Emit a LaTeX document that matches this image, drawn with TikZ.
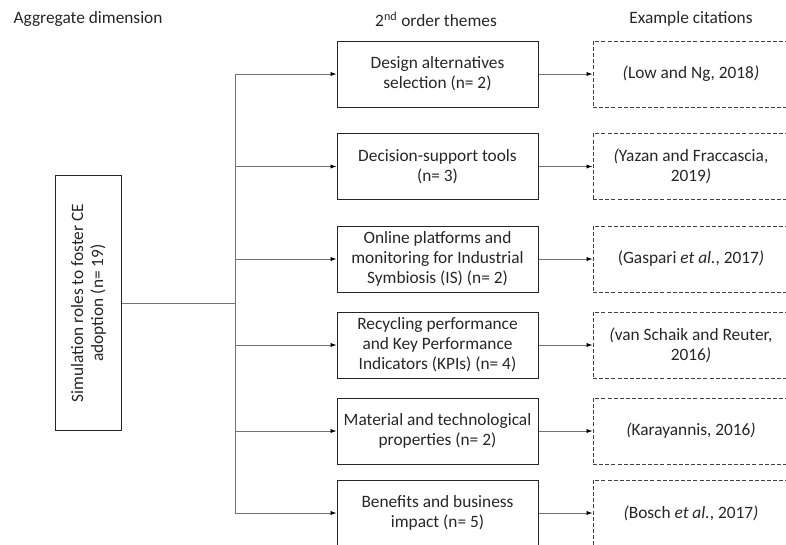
\documentclass[tikz,border=0pt]{standalone}
\usepackage{fontspec}
\setmainfont{Carlito}
\usetikzlibrary{arrows.meta, positioning}
\tikzstyle{aggregate} = [rectangle, rotate=90, minimum width=191pt, minimum height=50pt, align=center, line width=0.75pt, draw=black!85]
\tikzstyle{theme} = [rectangle, minimum width=150.75pt, minimum height=49.5pt, align=center, line width=0.75pt, draw=black!85]
\tikzstyle{citation} = [rectangle, minimum width=180pt, minimum height=49.5pt, align=center, line width=0.75pt, dash pattern=on 3pt off 1.6pt, draw=black!75]
\tikzstyle{header} = [text=black!85]
\tikzstyle{line} = [line width=0.6pt, draw=black!55]
\tikzstyle{arrow} = [line width=0.6pt, draw=black!55, -{Latex[length=4.5pt,width=3.2pt,black]}]

\begin{document}
\begin{tikzpicture}[x=0.75pt, y=-0.75pt, every node/.style={font=\fontsize{13}{15}\selectfont, text=black!85}]
        \useasboundingbox (0,0) rectangle (786,544);
        \clip (0,0) rectangle (786,544);

        \node (aggtitle) [header, anchor=west] at (9,19) {Aggregate dimension};
        \node (themetitle) [header] at (436,19) {2\textsuperscript{nd} order themes};
        \node (citetitle) [header] at (691,19) {Example citations};

        \node (agg) [aggregate] at (88.5,303) {Simulation roles to foster CE\\adoption (n= 19)};

        \node (t1) [theme] at (437.5,74) {Design alternatives\\selection (n= 2)};
        \node (t2) [theme] at (437.5,166.5) {Decision-support tools\\(n= 3)};
        \node (t3) [theme] at (437.5,259) {Online platforms and\\monitoring for Industrial\\Symbiosis (IS) (n= 2)};
        \node (t4) [theme] at (437.5,345) {Recycling performance\\and Key Performance\\Indicators (KPIs) (n= 4)};
        \node (t5) [theme] at (437.5,431) {Material and technological\\properties (n= 2)};
        \node (t6) [theme] at (437.5,513) {Benefits and business\\impact (n= 5)};

        \node (c1) [citation, right=40.5pt of t1] {\hspace*{-33pt}\textit{(}Low and Ng, 2018\textit{)}};
        \node (c2) [citation, right=40.5pt of t2] {\hspace*{-33pt}\textit{(}Yazan and Fraccascia,\\\hspace*{-33pt}2019\textit{)}};
        \node (c3) [citation, right=40.5pt of t3] {\hspace*{-33pt}(Gaspari \textit{et al.}, 2017\textit{)}};
        \node (c4) [citation, right=40.5pt of t4] {\hspace*{-33pt}\textit{(}van Schaik and Reuter,\\\hspace*{-33pt}2016\textit{)}};
        \node (c5) [citation, right=40.5pt of t5] {\hspace*{-33pt}\textit{(}Karayannis, 2016\textit{)}};
        \node (c6) [citation, right=40.5pt of t6] {\hspace*{-33pt}\textit{(}Bosch \textit{et al.}, 2017\textit{)}};

        % trunk from the aggregate dimension to the themes
        \coordinate (trunk) at (235,303);
        \draw [line] (agg.south) -- (trunk);
        \draw [line] (t1.west -| trunk) -- (t6.west -| trunk);

        \draw [arrow] (t1.west -| trunk) -- (t1.west);
        \draw [arrow] (t2.west -| trunk) -- (t2.west);
        \draw [arrow] (t3.west -| trunk) -- (t3.west);
        \draw [arrow] (t4.west -| trunk) -- (t4.west);
        \draw [arrow] (t5.west -| trunk) -- (t5.west);
        \draw [arrow] (t6.west -| trunk) -- (t6.west);

        \draw [arrow] (t1) -- (c1);
        \draw [arrow] (t2) -- (c2);
        \draw [arrow] (t3) -- (c3);
        \draw [arrow] (t4) -- (c4);
        \draw [arrow] (t5) -- (c5);
        \draw [arrow] (t6) -- (c6);
    \end{tikzpicture}
\end{document}
